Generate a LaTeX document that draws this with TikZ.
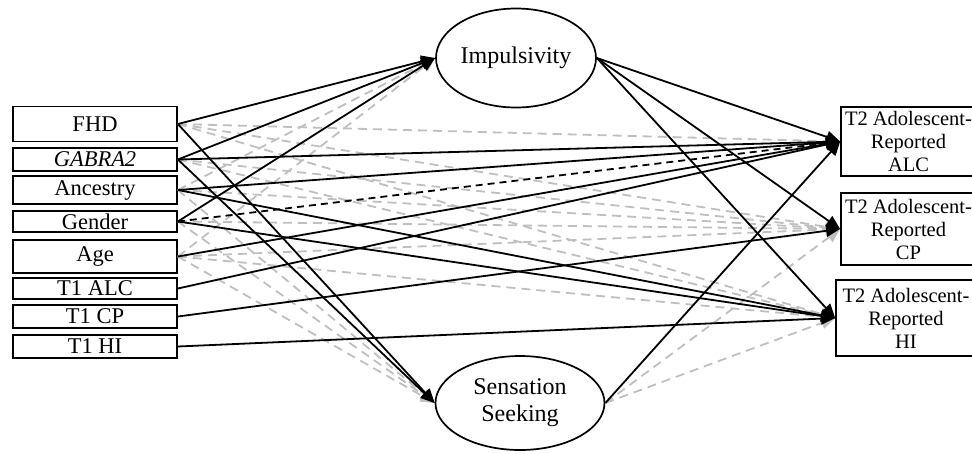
\documentclass[tikz,border=0pt]{standalone}
\usepackage{fontspec}
\setmainfont{Liberation Serif}
\usetikzlibrary{arrows.meta,shapes.geometric}

\begin{document}
\begin{tikzpicture}[x=1pt,y=-1pt,
  obs/.style={draw,line width=1.7pt,minimum width=164pt,inner sep=0pt,font=\fontsize{22.5}{24}\selectfont},
  outc/.style={draw,line width=1.7pt,minimum width=135pt,inner sep=0pt,align=center,font=\fontsize{20.5}{23}\selectfont},
  lat/.style={draw,ellipse,line width=1.7pt,inner sep=0pt,align=center,font=\fontsize{24}{27}\selectfont},
  link/.style={line width=1.8pt,-{Triangle[length=14pt,width=12pt]}},
  ns/.style={link,gray!50,dash pattern=on 9pt off 6pt},
  trend/.style={link,dash pattern=on 7pt off 5pt}]
\useasboundingbox (0,0) rectangle (972,453);
% predictors
\node[obs,minimum height=35pt] (fhd) at (95,124) {FHD};
\node[obs,minimum height=23pt] (gab) at (95,159.5) {\textit{GABRA2}};
\node[obs,minimum height=28pt] (anc) at (95,190) {Ancestry};
\node[obs,minimum height=21pt] (gen) at (95,221.5) {Gender};
\node[obs,minimum height=33pt] (age) at (95,256.5) {Age};
\node[obs,minimum height=21pt] (talc) at (95,288.5) {T1 ALC};
\node[obs,minimum height=23pt] (tcp) at (95,316.5) {T1 CP};
\node[obs,minimum height=23pt] (thi) at (95,346.5) {T1 HI};
% mediators
\node[lat,minimum width=160pt,minimum height=99pt] (imp) at (516,58) {Impulsivity};
\node[lat,minimum width=169pt,minimum height=94pt] (ss) at (520,403) {Sensation\\Seeking};
% outcomes
\node[outc,minimum height=69pt] (alc) at (908.5,141.5) {T2 Adolescent-\\Reported\\ALC};
\node[outc,minimum height=72pt] (cp) at (908.5,229) {T2 Adolescent-\\Reported\\CP};
\node[outc,minimum width=140pt,minimum height=76pt] (hi) at (906,318) {T2 Adolescent-\\Reported\\HI};
% non-significant paths
\path (fhd.east) edge[ns] (alc.west) edge[ns] (cp.west) edge[ns] (hi.west);
\path (gab.east) edge[ns] (cp.west) edge[ns] (hi.west);
\path (anc.east) edge[ns] (imp.west) edge[ns] (cp.west) edge[ns] (ss.west);
\path (gen.east) edge[ns] (cp.west) edge[ns] (ss.west);
\path (age.east) edge[ns] (imp.west) edge[ns] (cp.west) edge[ns] (hi.west) edge[ns] (ss.west);
\path (ss.east) edge[ns] (cp.west) edge[ns] (hi.west);
% significant paths
\path (fhd.east) edge[link] (imp.west) edge[link] (ss.west);
\path (gab.east) edge[link] (imp.west) edge[link] (ss.west) edge[link] (alc.west);
\path (anc.east) edge[link] (alc.west) edge[link] (hi.west);
\path (gen.east) edge[link] (imp.west) edge[trend] (alc.west) edge[link] (hi.west);
\path (age.east) edge[link] (alc.west);
\path (talc.east) edge[link] (alc.west);
\path (tcp.east) edge[link] (cp.west);
\path (thi.east) edge[link] (hi.west);
\path (imp.east) edge[link] (alc.west) edge[link] (cp.west) edge[link] (hi.west);
\path (ss.east) edge[link] (alc.west);
\end{tikzpicture}
\end{document}
